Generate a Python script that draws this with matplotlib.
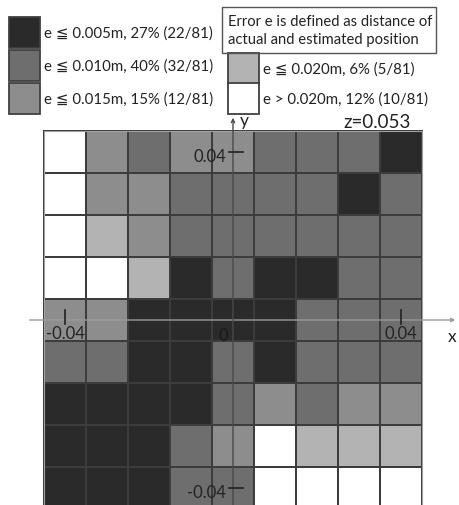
import numpy as np
import matplotlib as mpl
mpl.use("Agg")
from matplotlib import pyplot as plt
from matplotlib.colors import ListedColormap
from matplotlib.patches import Rectangle

# error level of each 0.01 m cell, top row (y=0.04) first, left column (x=-0.04) first
# 0: e<=0.005, 1: e<=0.010, 2: e<=0.015, 3: e<=0.020, 4: e>0.020
levels = [
    [4, 2, 1, 2, 2, 1, 1, 1, 0],
    [4, 2, 2, 1, 1, 1, 1, 0, 1],
    [4, 3, 2, 1, 1, 1, 1, 1, 1],
    [4, 4, 3, 0, 1, 0, 0, 1, 1],
    [2, 2, 0, 0, 0, 0, 1, 1, 1],
    [1, 1, 0, 0, 1, 0, 1, 1, 1],
    [0, 0, 0, 0, 1, 2, 1, 2, 2],
    [0, 0, 0, 1, 2, 4, 3, 3, 3],
    [0, 0, 0, 1, 1, 4, 4, 4, 4],
]
cell_centers = [-0.04, -0.03, -0.02, -0.01, 0.0, 0.01, 0.02, 0.03, 0.04]
level_colors = ["#2a2a2a", "#6e6e6e", "#8d8d8d", "#b3b3b3", "#ffffff"]
legend_labels = [
    "e \u2266 0.005m, 27% (22/81)",
    "e \u2266 0.010m, 40% (32/81)",
    "e \u2266 0.015m, 15% (12/81)",
    "e \u2266 0.020m, 6% (5/81)",
    "e > 0.020m, 12% (10/81)",
]
tick_vals = [-0.04, 0.04]
z_text = "z=0.053"
note = "Error e is defined as distance of\nactual and estimated position"

FONT = ["Lato", "DejaVu Sans"]
W, H = 460, 506
X0, Y0, S = 233, 321, 4200.0   # pixel of origin, pixels per metre


def px(x, y):
    # pixel position (from top left) -> data coordinates
    return (x - X0) / S, (Y0 - y) / S


fig = plt.figure(figsize=(W / 100, H / 100), dpi=100)
ax = fig.add_axes([0, 0, 1, 1])
ax.set_xlim(px(0, 0)[0], px(W, 0)[0])
ax.set_ylim(px(0, H)[1], px(0, 0)[1])
ax.axis("off")

# grid of cells
c = np.array(cell_centers)
edges = np.append(c - 0.005, c[-1] + 0.005)
cmap = ListedColormap(level_colors)
ax.pcolormesh(edges, edges, np.flipud(np.array(levels)), cmap=cmap,
              vmin=-0.5, vmax=4.5, edgecolors="#3c3c3c", linewidth=1.2, zorder=1)
ax.add_patch(Rectangle((edges[0], edges[0]), edges[-1] - edges[0], edges[-1] - edges[0],
                       fill=False, ec="#a0a0a0", lw=0.8, zorder=1))

# axes lines
ax.annotate("", xy=px(458, 321), xytext=px(27, 321),
            arrowprops=dict(arrowstyle="->", color="#999999", lw=1, mutation_scale=6), zorder=3)
ax.annotate("", xy=px(233, 116), xytext=px(233, 520),
            arrowprops=dict(arrowstyle="->", color="#4a4a4a", lw=1, mutation_scale=6), zorder=3)
ax.text(*px(452, 337), "x", fontsize=12.5, family=FONT, ha="center", va="center", color="#222")
ax.text(*px(244, 121), "y", fontsize=12.5, family=FONT, ha="center", va="center", color="#222")

# ticks
for t in tick_vals:
    ax.plot([t, t], [px(0, 311)[1], px(0, 325)[1]], color="#222", lw=1.2, zorder=4)
    ax.text(t, px(0, 334)[1], "%g" % t, fontsize=12, family=FONT,
            ha="center", va="center", color="#222", zorder=4)
    ax.plot([px(229, 0)[0], px(243, 0)[0]], [t, t], color="#222", lw=1.2, zorder=4)
    ax.text(px(226, 0)[0], t - 0.0009, "%g" % t, fontsize=12, family=FONT,
            ha="right", va="center", color="#222", zorder=4)
ax.text(*px(223, 336), "0", fontsize=12, family=FONT, ha="center", va="center",
        color="#1a1a1a", zorder=4)
ax.text(*px(377, 123), z_text, fontsize=13.5, family=FONT, ha="center", va="center", color="#222")

# legend
sq = 31 / S
legend_pos = [(9, 18), (9, 51), (9, 84), (228, 54), (228, 84)]
for i, (lx, ly) in enumerate(legend_pos):
    x, y = px(lx, ly)
    ax.add_patch(Rectangle((x, y - sq), sq, sq, fc=level_colors[i], ec="#404040", lw=1.3))
    ax.text(x + sq + 4 / S, y - sq / 2, legend_labels[i], fontsize=10.8, family=FONT,
            ha="left", va="center", color="#222")

# note box
bx, by = px(222, 8)
bx2, by2 = px(436, 54)
ax.add_patch(Rectangle((bx, by2), bx2 - bx, by - by2, fill=False, ec="#555555", lw=1))
ax.text(*px(228, 31), note, fontsize=10.6, family=FONT, ha="left", va="center",
        linespacing=1.4, color="#222")

fig.savefig("out.png", dpi=100)
